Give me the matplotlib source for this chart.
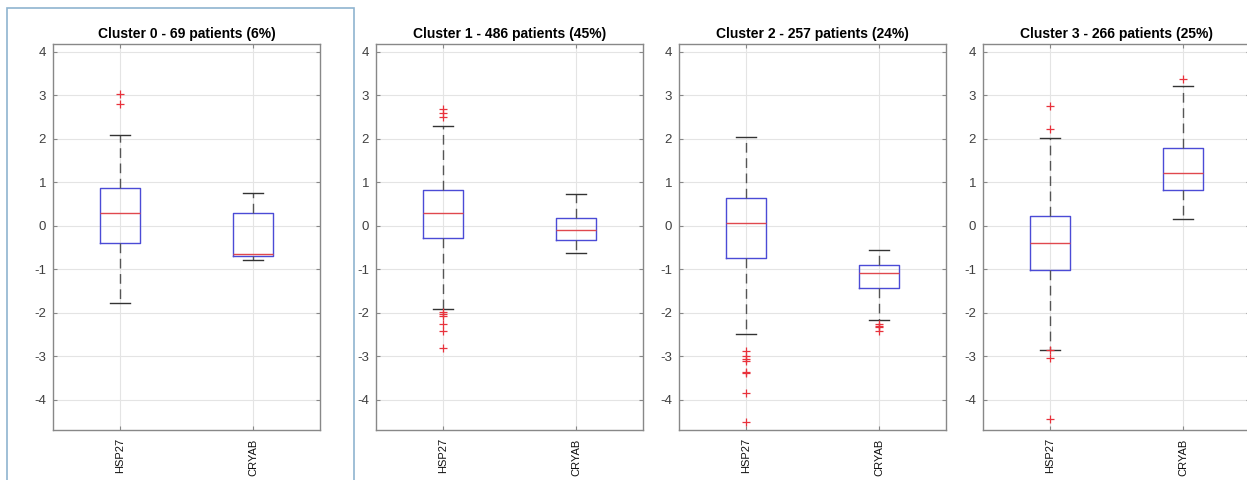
import matplotlib
matplotlib.use("Agg")
import matplotlib.pyplot as plt
from matplotlib.patches import Rectangle

plt.rcParams["font.family"] = ["Liberation Sans", "DejaVu Sans"]
plt.rcParams["axes.unicode_minus"] = False

titles = ["Cluster 0 - 69 patients (6%)", "Cluster 1 - 486 patients (45%)",
          "Cluster 2 - 257 patients (24%)", "Cluster 3 - 266 patients (25%)"]
genes = ["HSP27", "CRYAB"]

# per cluster: [HSP27, CRYAB]
whislo = [[-1.78, -0.78], [-1.92, -0.63], [-2.48, -2.18], [-2.85, 0.16]]
q1 = [[-0.39, -0.69], [-0.28, -0.32], [-0.74, -1.43], [-1.01, 0.82]]
med = [[0.29, -0.64], [0.30, -0.11], [0.06, -1.08], [-0.40, 1.22]]
q3 = [[0.87, 0.30], [0.81, 0.18], [0.64, -0.90], [0.22, 1.79]]
whishi = [[2.09, 0.75], [2.30, 0.73], [2.05, -0.57], [2.02, 3.22]]
fliers = [
    [[3.02, 2.79], []],
    [[2.68, 2.60, 2.50, -1.99, -2.03, -2.07, -2.26, -2.43, -2.81], []],
    [[-2.88, -3.00, -3.07, -3.12, -3.36, -3.39, -3.84, -4.51], [-2.26, -2.30, -2.34, -2.42]],
    [[2.75, 2.23, -2.86, -3.05, -4.45], [3.37]],
]

fig = plt.figure(figsize=(12.47, 4.8), dpi=100)
W, H = 1247, 480
lefts = [53, 376, 679, 983]
width = 267
top, bottom = 44, 430

fig.patches.append(Rectangle((7 / W, -0.01), (354 - 7) / W, 1.01 - 8 / H, transform=fig.transFigure,
                             fill=False, edgecolor="#8fb4d0", linewidth=1.2))

for k in range(4):
    ax = fig.add_axes([lefts[k] / W, 1 - bottom / H, width / W, (bottom - top) / H])
    stats = []
    for j in range(2):
        stats.append(dict(med=med[k][j], q1=q1[k][j], q3=q3[k][j],
                          whislo=whislo[k][j], whishi=whishi[k][j],
                          fliers=fliers[k][j], label=genes[j]))
    ax.bxp(stats, positions=[1, 2], widths=0.3, showfliers=True,
           boxprops=dict(color="#4b4bd6", linewidth=1.0),
           medianprops=dict(color="#e0484e", linewidth=1.0),
           whiskerprops=dict(color="#555555", linewidth=1.0, linestyle=(0, (7, 4))),
           capprops=dict(color="#333333", linewidth=1.0),
           capwidths=0.15,
           flierprops=dict(marker="+", markeredgecolor="#e8323c", markersize=6,
                           markeredgewidth=0.9, linestyle="none"))
    ax.set_xlim(0.5, 2.5)
    ax.set_ylim(-4.7, 4.18)
    ax.set_yticks(range(-4, 5))
    ax.set_xticks([1, 2])
    ax.set_xticklabels(genes, rotation=90, fontsize=8, color="#111111")
    ax.tick_params(axis="y", labelsize=9.5, labelcolor="#404040", pad=5)
    ax.tick_params(direction="in", top=True, right=True, length=3, color="#888888")
    ax.tick_params(axis="x", pad=6)
    ax.grid(True, color="#e4e4e4", linewidth=0.8)
    ax.set_axisbelow(True)
    for s in ax.spines.values():
        s.set_color("#888888")
        s.set_linewidth(1.0)
    ax.set_title(titles[k], fontsize=10, fontweight="bold", pad=4)

fig.savefig("out.png", dpi=100)
